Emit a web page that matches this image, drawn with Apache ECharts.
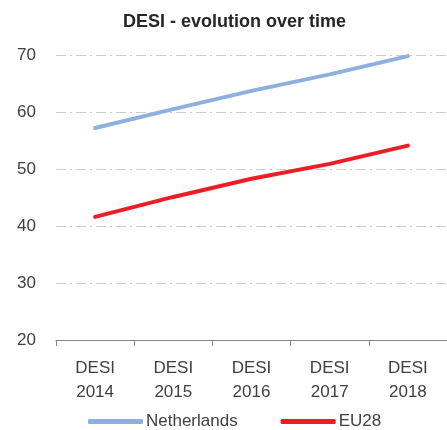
<!DOCTYPE html>
<html><head><meta charset="utf-8">
<script src="https://cdn.jsdelivr.net/npm/echarts@6/dist/echarts.min.js"></script>
<style>html,body{margin:0;padding:0;background:#fff}#c{width:447px;height:430px}</style>
</head><body><div id="c"></div>
<script>
const categories = ['DESI\n2014','DESI\n2015','DESI\n2016','DESI\n2017','DESI\n2018'];
const netherlands = [57.2, 60.5, 63.7, 66.6, 69.8];
const eu28 = [41.6, 45.1, 48.3, 50.9, 54.1];
const yTicks = {min: 20, max: 70, interval: 10};
const FONT = 'Liberation Sans, Arial, sans-serif';
const chart = echarts.init(document.getElementById('c'));
chart.setOption({
  animation: false,
  title: {text: 'DESI - evolution over time', left: 118, top: 8,
    textStyle: {fontFamily: FONT, fontSize: 18, fontWeight: 'bold', color: '#262626'}},
  grid: {left: 56, right: -4, top: 55, bottom: 90, containLabel: false},
  legend: {bottom: 0, left: 88, padding: 0, itemGap: 43, itemWidth: 55, itemHeight: 5, icon: 'roundRect',
    textStyle: {fontFamily: FONT, fontSize: 17, color: '#404040', padding: [0,0,0,-2]},
    data: ['Netherlands','EU28']},
  xAxis: {type: 'category', data: categories, boundaryGap: true,
    axisLine: {lineStyle: {color: '#888888', width: 1}},
    axisTick: {show: true, length: 6, lineStyle: {color: '#888888'}},
    axisLabel: {fontFamily: FONT, fontSize: 17, color: '#404040', lineHeight: 24, margin: 16}},
  yAxis: {type: 'value', min: yTicks.min, max: yTicks.max, interval: yTicks.interval,
    axisLine: {show: false}, axisTick: {show: false},
    axisLabel: {fontFamily: FONT, fontSize: 17, color: '#404040', margin: 20},
    splitLine: {lineStyle: {color: '#cccccc', width: 1, type: [10,4,2,4]}}},
  series: [
    {name: 'Netherlands', type: 'line', data: netherlands, symbol: 'none',
      lineStyle: {color: '#8eb0df', width: 4, cap: 'round'}, itemStyle: {color: '#8eb0df'}},
    {name: 'EU28', type: 'line', data: eu28, symbol: 'none',
      lineStyle: {color: '#ee1c25', width: 4, cap: 'round'}, itemStyle: {color: '#ee1c25'}}
  ]
});
</script></body></html>
